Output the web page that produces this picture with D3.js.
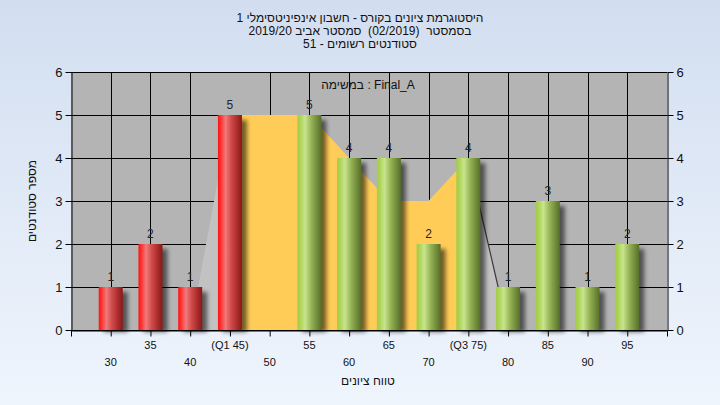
<!DOCTYPE html>
<html><head><meta charset="utf-8">
<script src="https://cdn.jsdelivr.net/npm/d3@7"></script>
<style>
body{margin:0;}
svg{display:block;font-family:"Liberation Sans",Arial,sans-serif;}
</style>
</head><body>
<svg id="c" width="720" height="405"></svg>
<script>
// ---- data ----
const titleLines = [
  "היסטוגרמת ציונים בקורס - חשבון אינפיניטסימלי 1",
  "בסמסטר  (02/2019)  סמסטר אביב 2019/20",
  "סטודנטים רשומים - 51"
];
const legendText = "במשימה : Final_A";
const xTitle = "טווח ציונים";
const yTitle = "מספר סטודנטים";
const categories = [30,35,40,45,50,55,60,65,70,75,80,85,90,95];
const counts     = [1, 2, 1, 5, 0, 5, 4, 4, 2, 4, 1, 3, 1, 2];
const xLabels = ["30","35","40","(Q1 45)","50","55","60","65","70","(Q3 75)","80","85","90","95"];
const q1 = 45, q3 = 75;
const iqrX = [45,50,55,60,65,70,75];
const iqrY = [5, 5, 5, 4, 3, 3, 4];
const bandX = [40,45,50,55,60,65,70,75,80];
const bandY = [0, 5, 5, 5, 4, 3, 3, 4, 0];
const yTicks = [0,1,2,3,4,5,6];
const xTicks = [25,30,35,40,45,50,55,60,65,70,75,80,85,90,95,100];

// ---- layout ----
const L = 71, R = 667, T = 72, B = 330;
const svg = d3.select("#c");
const x = d3.scaleLinear().domain([25,100]).range([L,R]);
const y = d3.scaleLinear().domain([0,6]).range([B,T]);
const crisp = v => Math.round(v) + 0.5;

const defs = svg.append("defs");
const bg = defs.append("linearGradient").attr("id","bg").attr("x1",0).attr("y1",0).attr("x2",0).attr("y2",1);
bg.append("stop").attr("offset","0%").attr("stop-color","#d2def0");
bg.append("stop").attr("offset","100%").attr("stop-color","#eff5fd");

function grad(id, stops){
  const g = defs.append("linearGradient").attr("id",id).attr("x1",0).attr("y1",0).attr("x2",1).attr("y2",0);
  stops.forEach(s => g.append("stop").attr("offset",s[0]).attr("stop-color",s[1]));
}
grad("red",  [["0%","#ff1414"],["10%","#ff2c2c"],["32%","#f07a7a"],["55%","#d24a4a"],["100%","#8a1616"]]);
grad("green",[["0%","#a2cc48"],["12%","#acd454"],["32%","#c9e48e"],["60%","#92b052"],["100%","#566f2a"]]);

const f = defs.append("filter").attr("id","sh").attr("x","-50%").attr("y","-50%").attr("width","200%").attr("height","200%");
f.append("feGaussianBlur").attr("stdDeviation",2);

svg.append("rect").attr("width",720).attr("height",405).attr("fill","url(#bg)");
svg.append("rect").attr("x",L).attr("y",T).attr("width",R-L).attr("height",B-T).attr("fill","#b4b4b4");

// gridlines
const grid = svg.append("g").attr("stroke","#000").attr("stroke-width",1);
grid.selectAll("line.h").data(yTicks).join("line").attr("class","h")
  .attr("x1",L).attr("x2",R).attr("y1",d=>crisp(y(d))).attr("y2",d=>crisp(y(d)));
grid.selectAll("line.v").data(categories.filter(c=>c!==q1)).join("line").attr("class","v")
  .attr("x1",d=>crisp(x(d))).attr("x2",d=>crisp(x(d))).attr("y1",T).attr("y2",B);

// light band + yellow IQR area
const band = bandX.map((v,i)=>[v,bandY[i]]);
svg.append("path").datum(band)
  .attr("fill","#c2c2c2")
  .attr("d", d3.area().x(d=>x(d[0])).y0(y(0)).y1(d=>y(d[1])));
svg.append("path").datum(band.slice(-2))
  .attr("fill","none").attr("stroke","#3a3a3a").attr("stroke-width",1.2)
  .attr("d", d3.line().x(d=>x(d[0])).y(d=>y(d[1])));
const iqr = iqrX.map((v,i)=>[v,iqrY[i]]);
svg.append("path").datum(iqr)
  .attr("fill","#ffcc57")
  .attr("d", d3.area().x(d=>x(d[0])).y0(y(0)).y1(d=>y(d[1])));

// bars
const bw = 24;
const data = categories.map((c,i)=>({c, v:counts[i]})).filter(d=>d.v>0);
svg.append("g").selectAll("rect").data(data).join("rect")
  .attr("x",d=>x(d.c)-bw/2+5).attr("y",d=>y(d.v)+5)
  .attr("width",bw).attr("height",d=>y(0)-y(d.v)-3)
  .attr("fill","#000").attr("opacity",0.55).attr("filter","url(#sh)");
svg.append("g").selectAll("rect").data(data).join("rect")
  .attr("x",d=>x(d.c)-bw/2).attr("y",d=>y(d.v))
  .attr("width",bw).attr("height",d=>y(0)-y(d.v))
  .attr("fill",d=>d.c<=q1?"url(#red)":"url(#green)");

// value labels
svg.append("g").selectAll("text").data(data).join("text")
  .attr("x",d=>x(d.c)).attr("y",d=>y(d.v)-6)
  .attr("text-anchor","middle").attr("font-size",12).attr("fill","#1c2530")
  .text(d=>d.v);

// axes
const ax = g => { g.selectAll("text").attr("fill","#111"); g.selectAll("line,path").attr("stroke","#000"); };
svg.append("g").attr("transform",`translate(${L+0.5},0)`)
  .call(d3.axisLeft(y).tickValues(yTicks).tickFormat(d3.format("d")).tickSize(6).tickSizeOuter(0).tickPadding(3))
  .call(g=>g.selectAll("text").attr("font-size",13).attr("font-family",null)).call(ax);
svg.append("g").attr("transform",`translate(${R+0.5},0)`)
  .call(d3.axisRight(y).tickValues(yTicks).tickFormat(d3.format("d")).tickSize(6).tickSizeOuter(0).tickPadding(3))
  .call(g=>g.selectAll("text").attr("font-size",13).attr("font-family",null)).call(ax);
svg.append("g").attr("transform",`translate(0,${B+0.5})`)
  .call(d3.axisBottom(x).tickValues(xTicks).tickSize(6).tickSizeOuter(0).tickFormat(""))
  .call(ax);

// x labels in two rows
svg.append("g").selectAll("text").data(categories).join("text")
  .attr("x",d=>x(d)).attr("y",(d,i)=> i%2 ? 349 : 366)
  .attr("text-anchor","middle").attr("font-size",11).attr("fill","#111")
  .text((d,i)=>xLabels[i]);

// titles
svg.append("g").selectAll("text").data(titleLines).join("text")
  .attr("x",360).attr("y",(d,i)=>22+i*13)
  .attr("text-anchor","middle").style("direction","rtl").style("white-space","pre")
  .attr("font-size",12).attr("fill","#111").text(d=>d);

svg.append("text").attr("x",368).attr("y",89).attr("text-anchor","middle")
  .attr("font-size",12).attr("fill","#111").text(legendText);

svg.append("text").attr("x",368).attr("y",385).attr("text-anchor","middle")
  .attr("font-size",12).attr("fill","#111").style("direction","rtl").text(xTitle);
svg.append("text").attr("transform","translate(36,201) rotate(-90)").attr("text-anchor","middle")
  .attr("font-size",12).attr("fill","#111").style("direction","rtl").text(yTitle);
</script>
</body></html>
